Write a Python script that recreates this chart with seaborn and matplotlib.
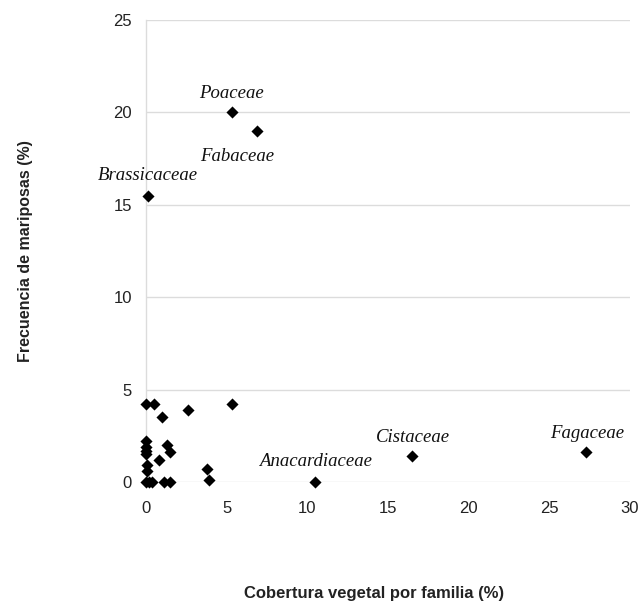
import matplotlib
matplotlib.use("Agg")
import matplotlib.pyplot as plt
import seaborn as sns
import pandas as pd

# Data
cobertura = [5.3, 6.9, 0.1, 10.5, 16.5, 27.3,
             0.0, 0.5, 1.0, 2.6, 5.3,
             0.0, 0.0, 0.0, 0.0, 1.3, 1.5, 0.8,
             0.05, 0.05, 3.8, 0.0, 0.2, 0.4, 1.1, 1.5, 3.9]
frecuencia = [20.0, 19.0, 15.5, 0.0, 1.4, 1.6,
              4.2, 4.2, 3.5, 3.9, 4.2,
              2.2, 1.9, 1.7, 1.5, 2.0, 1.6, 1.2,
              0.9, 0.6, 0.7, 0.0, 0.0, 0.0, 0.0, 0.0, 0.1]
familias = ["Poaceae", "Fabaceae", "Brassicaceae", "Anacardiaceae", "Cistaceae", "Fagaceae"] + [""] * 21
# label offsets in pixels (dx, dy)
label_dx = [0, -20, 0, 0, 1, 1]
label_dy = [19, -26, 20, 20, 19, 19]

x_ticks = [0, 5, 10, 15, 20, 25, 30]
y_ticks = [0, 5, 10, 15, 20, 25]

df = pd.DataFrame({"x": cobertura, "y": frecuencia, "familia": familias})

sns.set_theme(style="white")
plt.rcParams['font.family'] = ['Liberation Sans', 'DejaVu Sans']

fig = plt.figure(figsize=(6.40, 6.02), dpi=100)
ax = fig.add_axes([146/640, 1 - 482/602, (630-146)/640, (482-20)/602])

sns.scatterplot(data=df, x="x", y="y", marker="D", s=38, color="black",
                edgecolor="black", linewidth=0, ax=ax, zorder=3, clip_on=False)

ax.set_xlim(0, 30)
ax.set_ylim(0, 25)
ax.set_xticks(x_ticks)
ax.set_yticks(y_ticks)
ax.tick_params(axis="both", length=0, labelsize=12, labelcolor="#222222")
ax.tick_params(axis="x", pad=14)
ax.tick_params(axis="y", pad=10)
ax.yaxis.grid(True, color="#dcdcdc", linewidth=1)
ax.xaxis.grid(False)
for s in ["top", "right", "bottom"]:
    ax.spines[s].set_visible(False)
ax.spines["left"].set_color("#dcdcdc")
ax.spines["left"].set_linewidth(1)

ax.set_xlabel("Cobertura vegetal por familia (%)", fontsize=12, fontweight="bold",
              color="#222222", labelpad=50)
ax.xaxis.label.set_x(0.471)
ax.set_ylabel("Frecuencia de mariposas (%)", fontsize=11.5, fontweight="bold",
              color="#222222", labelpad=58)

for i, name in enumerate(familias[:6]):
    ax.annotate(name, (cobertura[i], frecuencia[i]),
                xytext=(label_dx[i] * 0.72, label_dy[i] * 0.72), textcoords="offset points",
                ha="center", va="center", fontsize=13.5, fontstyle="italic",
                family=["Liberation Serif", "DejaVu Serif"], color="#111111",
                annotation_clip=False)

fig.savefig("out.png", dpi=100)
